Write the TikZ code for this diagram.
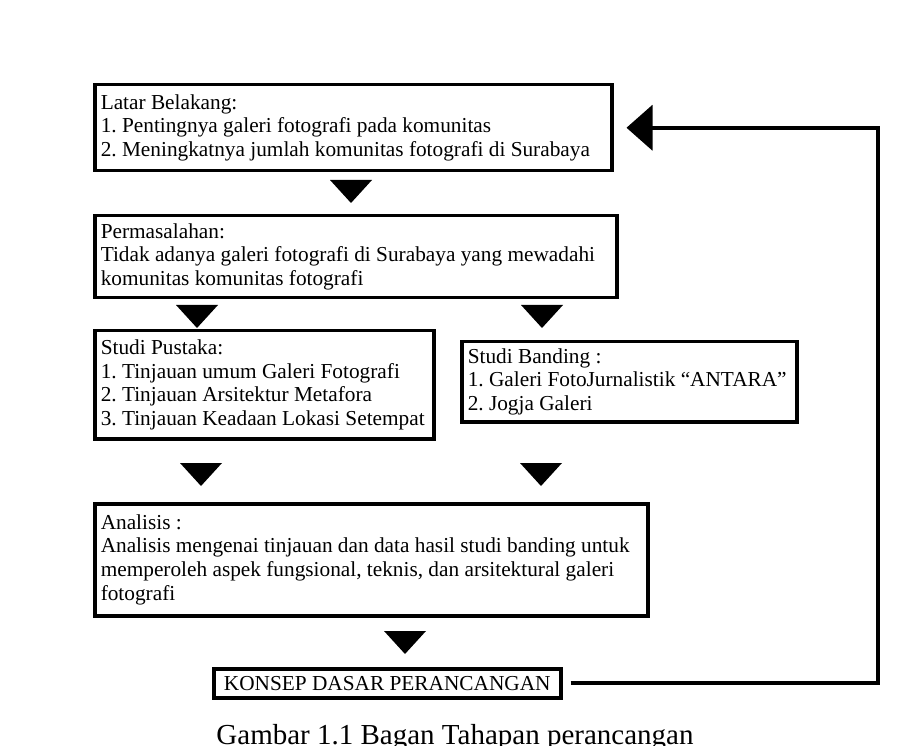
\documentclass[tikz,border=0pt]{standalone}
\usepackage{fontspec}
\setmainfont{Liberation Serif}
\usepackage{tikz}
\usetikzlibrary{arrows.meta}

\newcommand{\boxfont}{\fontsize{21.3}{23.7}\selectfont\frenchspacing}
\newcommand{\capfont}{\fontsize{29}{33}\selectfont}

\tikzset{
  stagebox/.style={draw, line width=3.5pt, anchor=north west, align=flush left,
    inner xsep=6pt, inner ysep=0pt, font=\boxfont},
  downtri/.pic={\fill (-21,0) -- (21,0) -- (0,23) -- cycle;},
  feedback/.style={line width=4pt, -{Triangle[width=45pt,length=26pt]}}
}

\begin{document}
\begin{tikzpicture}[x=1pt,y=-1pt]
        \useasboundingbox (0,0) rectangle (906,746);

        % --- stages ---
        \node[stagebox, text width=505pt, minimum height=86pt] (latar) at (93,83)
          {Latar Belakang:\\
           1. Pentingnya galeri fotografi pada komunitas\\
           2. Meningkatnya jumlah komunitas fotografi di Surabaya};
        \node[stagebox, text width=510pt, minimum height=82pt] (masalah) at (93,214)
          {Permasalahan:\\
           Tidak adanya galeri fotografi di Surabaya yang mewadahi\\
           komunitas komunitas fotografi};
        \node[stagebox, text width=327pt, minimum height=108pt] (pustaka) at (93,329)
          {Studi Pustaka:\\
           1. Tinjauan umum Galeri Fotografi\\
           2. Tinjauan Arsitektur Metafora\\
           3. Tinjauan Keadaan Lokasi Setempat};
        \node[stagebox, text width=323pt, minimum height=80pt] (banding) at (460,340)
          {Studi Banding :\\
           1. Galeri FotoJurnalistik “ANTARA”\\
           2. Jogja Galeri};
        \node[stagebox, text width=541pt, minimum height=112pt] (analisis) at (93,502)
          {Analisis :\\
           Analisis mengenai tinjauan dan data hasil studi banding untuk\\
           memperoleh aspek fungsional, teknis, dan arsitektural galeri\\
           fotografi};
        \node[stagebox, align=center, minimum width=347pt, minimum height=29pt] (konsep) at (212,667)
          {KONSEP DASAR PERANCANGAN};

        % --- down arrows ---
        \pic at (351,180) {downtri};
        \pic at (197,305) {downtri};
        \pic at (542,305) {downtri};
        \pic at (201,463) {downtri};
        \pic at (541,463) {downtri};
        \pic at (405,631) {downtri};

        % --- feedback loop ---
        \coordinate (loopx) at (878,0);
        \draw[feedback] ([xshift=8pt]konsep.east) -| (loopx |- latar.east)
          -- ([xshift=13pt]latar.east);

        % --- caption ---
        \node[anchor=base, font=\capfont, inner sep=0pt] (caption) at (455,744)
          {Gambar 1.1 Bagan Tahapan perancangan};
\end{tikzpicture}
\end{document}
